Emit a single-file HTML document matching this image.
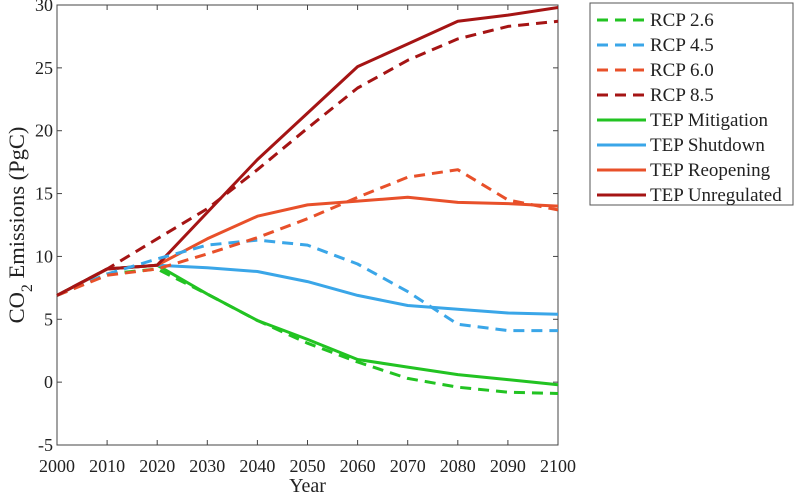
<!DOCTYPE html>
<html><head><meta charset="utf-8"><style>
body{margin:0;background:#fff;}
svg text{font-family:"Liberation Serif",serif;fill:#222;}
</style></head><body>
<svg id="chart" width="800" height="494" viewBox="0 0 800 494" xmlns="http://www.w3.org/2000/svg">
<g id="axes"></g>
<g id="series"></g>
<g id="legend"></g>
</svg>
<script>
const years = [2000,2010,2020,2030,2040,2050,2060,2070,2080,2090,2100];
const rcp26 = [6.9,8.6,9.0,7.0,4.9,3.1,1.6,0.3,-0.4,-0.8,-0.9];
const rcp45 = [6.9,8.6,9.8,10.9,11.3,10.9,9.4,7.2,4.6,4.1,4.1];
const rcp60 = [6.9,8.5,9.0,10.2,11.5,13.0,14.7,16.3,16.9,14.5,13.7];
const rcp85 = [6.9,9.0,11.4,13.8,16.9,20.2,23.4,25.6,27.3,28.3,28.7];
const tepMit = [6.9,9.0,9.3,7.0,4.9,3.4,1.8,1.2,0.6,0.2,-0.2];
const tepShut = [6.9,9.0,9.3,9.1,8.8,8.0,6.9,6.1,5.8,5.5,5.4];
const tepReop = [6.9,9.0,9.3,11.4,13.2,14.1,14.4,14.7,14.3,14.2,14.0];
const tepUnreg = [6.9,9.0,9.3,13.5,17.7,21.4,25.1,26.9,28.7,29.2,29.8];
const yTicks = [-5,0,5,10,15,20,25,30];
const xTicks = [2000,2010,2020,2030,2040,2050,2060,2070,2080,2090,2100];
const seriesNames = ["RCP 2.6","RCP 4.5","RCP 6.0","RCP 8.5","TEP Mitigation","TEP Shutdown","TEP Reopening","TEP Unregulated"];

const NS="http://www.w3.org/2000/svg";
const L=57,R=558,T=5,B=445;
const xs=v=>L+(v-2000)/100*(R-L);
const ys=v=>B-(v+5)/35*(B-T);
function mk(tag,parent,attrs){const e=document.createElementNS(NS,tag);for(const k in attrs)e.setAttribute(k,attrs[k]);parent.appendChild(e);return e;}
const axes=document.getElementById('axes');
const frame=mk('rect',axes,{x:L,y:T,width:R-L,height:B-T,fill:'none',stroke:'#444','stroke-width':1});


yTicks.forEach(v=>{
  const y=ys(v);
  const t1=mk('line',axes,{x1:L,x2:L+5,y1:y,y2:y,stroke:'#444'});
  
  
  const t2=mk('line',axes,{x1:R,x2:R-5,y1:y,y2:y,stroke:'#444'});
  
  
  const tx=mk('text',axes,{x:L-4,y:y+6,'text-anchor':'end','font-size':18});
  tx.textContent=v;
  
  
});
xTicks.forEach(v=>{
  const x=xs(v);
  const t1=mk('line',axes,{x1:x,x2:x,y1:B,y2:B-5,stroke:'#444'});
  
  
  const t2=mk('line',axes,{x1:x,x2:x,y1:T,y2:T+5,stroke:'#444'});
  
  
  const tx=mk('text',axes,{x:x,y:472,'text-anchor':'middle','font-size':18});
  tx.textContent=v;
  
  
});
const xt=mk('text',axes,{x:(L+R)/2,y:492,'text-anchor':'middle','font-size':20});
xt.textContent='Year';


const yt=mk('text',axes,{transform:'translate(24,225) rotate(-90)','text-anchor':'middle','font-size':22.5});
yt.innerHTML='CO<tspan dy="8" font-size="16">2</tspan><tspan dy="-8"> Emissions (PgC)</tspan>';



const colors=['#22c322','#3aa6e8','#e8502a','#a51414','#22c322','#3aa6e8','#e8502a','#a51414'];
const dashed=[true,true,true,true,false,false,false,false];
const data=[rcp26,rcp45,rcp60,rcp85,tepMit,tepShut,tepReop,tepUnreg];
const sg=document.getElementById('series');
const order=[4,5,6,7,0,1,2,3];
order.forEach(i=>{
  const pts=years.map((yr,j)=>xs(yr).toFixed(1)+','+ys(data[i][j]).toFixed(1)).join(' ');
  const pl=mk('polyline',sg,{points:pts,fill:'none',stroke:colors[i],'stroke-width':3,'stroke-linejoin':'round'});
  if(dashed[i])pl.setAttribute('stroke-dasharray','11,7');
  
  
});
const lg=document.getElementById('legend');
const box=mk('rect',lg,{x:590,y:3,width:203,height:202,fill:'#fff',stroke:'#555','stroke-width':1});


seriesNames.forEach((n,i)=>{
  const y=20+i*25;
  const g=mk('g',lg,{});
  
  
  const ln=mk('line',g,{x1:597,x2:646,y1:y,y2:y,stroke:colors[i],'stroke-width':3});
  if(dashed[i])ln.setAttribute('stroke-dasharray','11,7');
  const tx=mk('text',g,{x:650,y:y+6,'font-size':19});
  tx.textContent=n;
});
</script>
</body></html>
